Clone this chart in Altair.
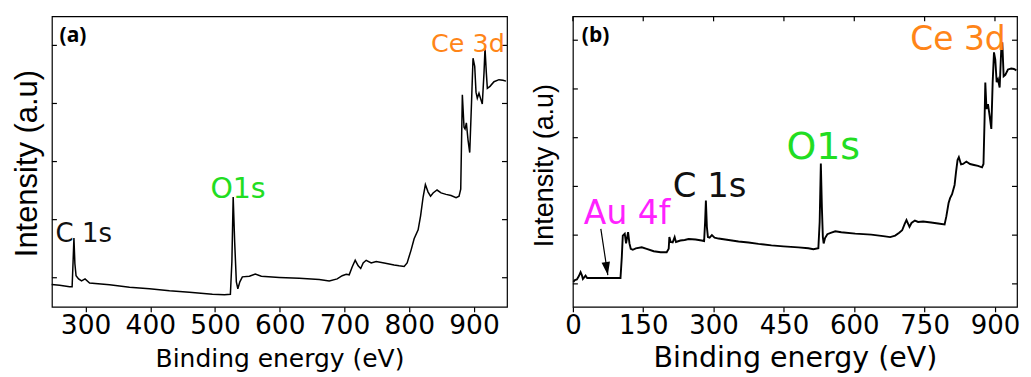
import altair as alt
import pandas as pd

# ---------------- Panel (a) ----------------
a_energy = [247.6, 259.9, 275.3, 279.2, 280.7, 282.0, 283.5, 285.3, 289.2, 293.8,
            299.2, 306.2, 337.0, 367.9, 398.7, 429.6, 460.4, 495.9, 514.4, 523.7,
            526.0, 528.0, 530.3, 532.9, 535.2, 538.3, 542.2, 553.0, 562.2, 571.5,
            599.2, 630.1, 660.9, 676.4, 688.7, 696.4, 702.6, 707.2, 711.8, 716.5,
            721.1, 725.0, 728.8, 733.4, 741.2, 748.9, 761.2, 776.6, 784.3, 792.1,
            796.7, 802.9, 807.5, 813.7, 817.5, 821.4, 824.9, 829.1, 832.9, 836.8,
            842.9, 849.1, 856.8, 864.6, 872.3, 876.9, 879.5, 882.0, 884.6, 886.2,
            888.2, 890.8, 893.4, 896.2, 898.5, 901.1, 903.1, 905.1, 907.7, 910.4,
            912.8, 915.5, 917.0, 919.0, 920.6, 924.7, 930.9, 938.6, 944.8, 949.4]
a_intensity = [7.7, 7.4, 6.9, 6.9, 15.5, 23.7, 14.8, 10.7, 9.6, 8.9,
               9.6, 8.2, 7.6, 6.7, 6.2, 5.5, 5.0, 4.3, 4.1, 4.3,
               15.5, 37.8, 22.3, 8.6, 6.2, 8.6, 10.3, 10.5, 11.3, 10.5,
               10.1, 9.8, 9.4, 8.9, 9.6, 10.7, 11.2, 11.0, 13.7, 16.0,
               14.1, 13.2, 15.1, 16.0, 15.1, 15.6, 15.1, 14.4, 14.1, 13.9,
               15.1, 19.6, 23.4, 26.5, 31.3, 37.8, 42.1, 39.5, 38.1, 39.2,
               40.2, 39.2, 38.7, 38.3, 37.6, 38.1, 40.5, 73.0, 61.8, 61.2,
               63.3, 57.4, 53.1, 70.4, 85.6, 82.8, 73.9, 71.8, 73.5, 71.5,
               69.8, 80.7, 89.0, 80.7, 75.2, 75.9, 77.5, 78.2, 78.0, 77.7]
a_xticks = [300, 400, 500, 600, 700, 800, 900]
a_yticks = [10, 30, 50, 70, 90]
a_xdomain = [248, 951]
a_ydomain = [0, 100]

a_lab_text = ["C 1s", "O1s", "Ce 3d"]
a_lab_x = [253.7, 492.8, 833.7]
a_lab_y = [22.3, 37.5, 87.6]
a_lab_color = ["#111111", "#22dd22", "#ff8518"]
a_lab_size = [26, 28.5, 25.5]

# ---------------- Panel (b) ----------------
b_energy = [1.1, 4.3, 8.5, 12.8, 16.4, 19.1, 21.3, 24.5, 27.0, 30.4,
            44.7, 66.0, 87.2, 101.5, 104.3, 106.4, 110.6, 113.4, 117.7, 120.6,
            123.4, 127.7, 134.1, 146.8, 157.4, 172.3, 187.2, 200.0, 204.3, 205.7,
            208.5, 212.8, 217.0, 219.8, 229.2, 238.3, 246.8, 261.7, 274.5, 279.8,
            281.9, 283.6, 285.7, 287.9, 291.5, 296.4, 302.1, 310.6, 331.9, 353.2,
            374.5, 395.7, 423.4, 448.9, 480.9, 502.1, 512.8, 523.4, 526.2, 528.7,
            530.9, 533.0, 534.7, 537.7, 542.6, 551.1, 559.6, 572.3, 602.1, 636.2,
            661.7, 676.6, 687.2, 695.8, 702.1, 707.5, 711.3, 714.9, 717.7, 722.0,
            729.2, 736.2, 746.8, 763.8, 778.7, 792.6, 796.4, 801.1, 804.3, 808.5,
            813.9, 817.0, 820.2, 823.0, 827.7, 832.0, 839.0, 846.8, 855.3, 863.8,
            872.4, 875.5, 877.7, 879.4, 881.9, 885.1, 888.7, 892.2, 895.1, 897.9,
            900.7, 903.6, 906.4, 910.0, 913.4, 915.6, 918.5, 922.0, 927.7, 934.7,
            940.4, 945.7]
b_intensity = [1.04, 1.08, 1.09, 1.16, 1.24, 1.18, 1.10, 1.14, 1.17, 1.12,
               1.12, 1.12, 1.12, 1.12, 1.55, 1.99, 2.03, 1.83, 2.06, 1.83,
               1.72, 1.70, 1.73, 1.75, 1.72, 1.67, 1.65, 1.65, 1.72, 1.96,
               1.86, 1.85, 1.96, 1.86, 1.89, 1.90, 1.92, 1.91, 1.89, 1.88,
               2.27, 2.71, 2.17, 1.96, 1.95, 2.00, 1.95, 1.93, 1.90, 1.87,
               1.85, 1.82, 1.79, 1.77, 1.75, 1.73, 1.71, 1.73, 2.27, 3.47,
               2.58, 1.96, 1.83, 1.94, 2.02, 2.05, 2.08, 2.06, 2.03, 2.01,
               1.98, 1.96, 1.99, 2.05, 2.10, 2.23, 2.31, 2.23, 2.17, 2.25,
               2.30, 2.27, 2.28, 2.26, 2.24, 2.22, 2.39, 2.66, 2.76, 2.84,
               3.03, 3.30, 3.54, 3.60, 3.45, 3.46, 3.51, 3.46, 3.44, 3.42,
               3.39, 3.46, 4.32, 5.13, 4.59, 4.69, 4.44, 4.18, 5.14, 5.75,
               5.60, 5.14, 5.20, 5.03, 5.82, 5.96, 5.26, 5.29, 5.40, 5.42,
               5.41, 5.38]
b_xticks = [0, 150, 300, 450, 600, 750, 900]
b_yticks = [1, 2, 3, 4, 5, 6]
b_xdomain = [0, 947]
b_ydomain = [0.53, 6.49]

b_lab_text = ["Au 4f", "C 1s", "O1s", "Ce 3d"]
b_lab_x = [23.4, 212.8, 455.3, 719.2]
b_lab_y = [2.23, 2.78, 3.56, 5.80]
b_lab_color = ["#ff22ff", "#111111", "#22dd22", "#ff8518"]
b_lab_size = [33, 34, 38, 33]

arrow_x = [59.6]
arrow_y = [2.13]
arrow_x2 = [74.5]
arrow_y2 = [1.18]

tags = ["(a)", "(b)"]
tag_x = [259.9, 19.1]
tag_y = [91.1, 5.96]

BIG = "DejaVu Sans"
NARROW = "Liberation Sans Narrow, Liberation Sans, Arial"


def panel(energy, intensity, xdom, ydom, xticks, yticks, width, height,
          lab_text, lab_x, lab_y, lab_color, lab_size, tag, tx, ty,
          xtitle_size, ytitle_size, ytitle_x, ytitle_y, line_w, top_ticks,
          tick_label_size, label_pad, xtitle_y):
    df = pd.DataFrame({"E": energy, "I": intensity})
    xs = alt.Scale(domain=xdom, nice=False, zero=False)
    ys = alt.Scale(domain=ydom, nice=False, zero=False)
    x_axis = alt.Axis(values=xticks, title="Binding energy (eV)", labelFont=BIG,
                      labelFontSize=tick_label_size, labelPadding=label_pad, tickSize=5,
                      tickWidth=1.2, labelOverlap=False, labelFlush=False, titleFont=BIG,
                      titleFontSize=xtitle_size, titleFontWeight="normal",
                      titleBaseline="alphabetic", titleY=xtitle_y, titleX=width / 2)
    y_axis = alt.Axis(values=yticks, title="Intensity (a.u)", labels=False,
                      ticks=False, titleFont=NARROW,
                      titleFontSize=ytitle_size, titleFontWeight="normal",
                      titleAngle=270, titleBaseline="middle", titleAlign="center",
                      titleX=ytitle_x, titleY=ytitle_y)
    line = alt.Chart(df).mark_line(color="black", strokeWidth=line_w).encode(
        x=alt.X("E:Q", scale=xs, axis=x_axis),
        y=alt.Y("I:Q", scale=ys, axis=y_axis),
    )
    layers = [line]
    # inner tick marks on left and right frame
    ytdf = pd.DataFrame({"v": yticks})
    left_t = alt.Chart(ytdf).mark_rule(color="black", strokeWidth=1.2).encode(
        y=alt.Y("v:Q", scale=ys), x=alt.value(0), x2=alt.value(5))
    right_t = alt.Chart(ytdf).mark_rule(color="black", strokeWidth=1.2).encode(
        y=alt.Y("v:Q", scale=ys), x=alt.value(width - 5), x2=alt.value(width))
    layers += [left_t, right_t]
    if top_ticks:
        xtdf = pd.DataFrame({"v": xticks})
        top_t = alt.Chart(xtdf).mark_rule(color="black", strokeWidth=1.2).encode(
            x=alt.X("v:Q", scale=xs), y=alt.value(0), y2=alt.value(5))
        layers.append(top_t)
    ldf = pd.DataFrame({"t": lab_text, "x": lab_x, "y": lab_y, "c": lab_color, "s": lab_size})
    labels = alt.Chart(ldf).mark_text(align="left", baseline="alphabetic", font=BIG).encode(
        x=alt.X("x:Q", scale=xs),
        y=alt.Y("y:Q", scale=ys),
        text="t:N",
        color=alt.Color("c:N", scale=None),
        size=alt.Size("s:Q", scale=None),
    )
    tdf = pd.DataFrame({"t": [tag], "x": [tx], "y": [ty]})
    tagm = alt.Chart(tdf).mark_text(align="left", baseline="alphabetic", font="Open Sans",
                                    fontWeight="bold", fontSize=21, color="black").encode(
        x=alt.X("x:Q", scale=xs),
        y=alt.Y("y:Q", scale=ys),
        text="t:N",
    )
    layers += [labels, tagm]
    return layers, xs, ys


a_layers, axs, ays = panel(a_energy, a_intensity, a_xdomain, a_ydomain, a_xticks, a_yticks,
                           456, 291, a_lab_text, a_lab_x, a_lab_y, a_lab_color, a_lab_size,
                           tags[0], tag_x[0], tag_y[0], 25, 31, -24, 147, 1.5, False,
                           26.5, 1, 59.5)
b_layers, bxs, bys = panel(b_energy, b_intensity, b_xdomain, b_ydomain, b_xticks, b_yticks,
                           445, 291, b_lab_text, b_lab_x, b_lab_y, b_lab_color, b_lab_size,
                           tags[1], tag_x[1], tag_y[1], 28.5, 27, -28, 149, 1.9, True,
                           26, 1, 60)

adf = pd.DataFrame({"x": arrow_x, "y": arrow_y, "x2": arrow_x2, "y2": arrow_y2})
arrow_line = alt.Chart(adf).mark_rule(color="black", strokeWidth=1.2).encode(
    x=alt.X("x:Q", scale=bxs),
    y=alt.Y("y:Q", scale=bys),
    x2="x2:Q", y2="y2:Q",
)
arrow_head = alt.Chart(adf).mark_point(
    shape="M-0.32,-1L0.32,-1L0,0Z", filled=True, color="black", opacity=1,
    size=700, angle=351, strokeWidth=0).encode(
    x=alt.X("x2:Q", scale=bxs),
    y=alt.Y("y2:Q", scale=bys),
)

chart_a = alt.layer(*a_layers).properties(width=456, height=291)
chart_b = alt.layer(*b_layers, arrow_line, arrow_head).properties(width=445, height=291)

chart = alt.hconcat(chart_a, chart_b, spacing=66, bounds="flush").properties(
    padding={"left": 3, "top": 6, "right": 2, "bottom": 2}
).configure_view(stroke="black", strokeWidth=1.2).configure_axis(
    grid=False, domain=False, tickColor="black", labelColor="black", titleColor="black"
)

chart.save("out.html", embed_options={"renderer": "svg", "actions": False})
